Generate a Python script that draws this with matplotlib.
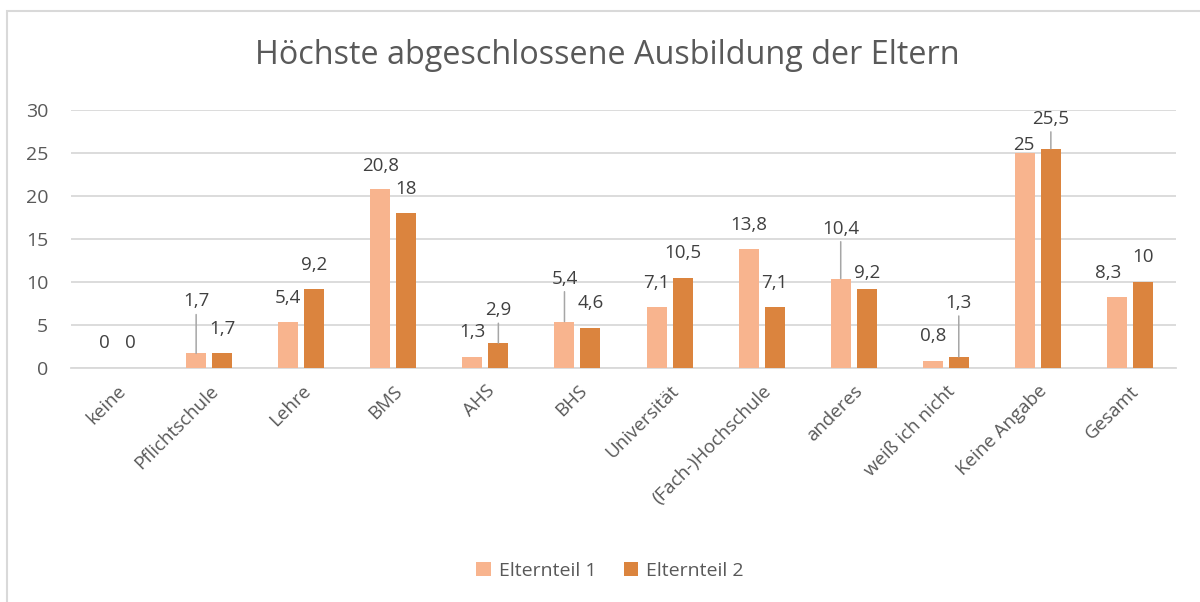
import matplotlib

matplotlib.use("Agg")

import matplotlib.pyplot as plt
import numpy as np
from matplotlib.patches import Rectangle

plt.rcParams["font.family"] = ["Open Sans", "DejaVu Sans"]

# --- data -----------------------------------------------------------------
categories = [
    "keine", "Pflichtschule", "Lehre", "BMS", "AHS", "BHS", "Universität",
    "(Fach-)Hochschule", "anderes", "weiß ich nicht", "Keine Angabe", "Gesamt",
]
elternteil_1 = [0, 1.7, 5.4, 20.8, 1.3, 5.4, 7.1, 13.8, 10.4, 0.8, 25, 8.3]
elternteil_2 = [0, 1.7, 9.2, 18, 2.9, 4.6, 10.5, 7.1, 9.2, 1.3, 25.5, 10]
series_names = ["Elternteil 1", "Elternteil 2"]
title = "Höchste abgeschlossene Ausbildung der Eltern"

# --- label placement (pixel offsets from bar top; leader line if far) -----
offsets_1 = [(0, 25), (0, 52), (0, 24), (0, 23), (0, 25), (0, 43),
             (0, 24), (0, 24), (0, 50), (0, 25), (-1, 8), (-9, 24)]
offsets_2 = [(0, 25), (0, 24), (0, 24), (0, 24), (0, 33), (0, 25),
             (0, 25), (0, 24), (0, 16), (0, 54), (0, 30), (0, 25)]
leader_1 = [False, True, False, False, False, True, False, False, True, False, False, False]
leader_2 = [False, False, False, False, True, False, False, False, False, True, True, False]

COLOR_1 = "#F8B48E"
COLOR_2 = "#DB843E"
TEXT = "#595959"
GRID = "#D9D9D9"

W, H = 1200, 602
fig = plt.figure(figsize=(W / 100, H / 100), dpi=100)
ax = fig.add_axes([71 / W, 1 - 368 / H, (1176 - 71) / W, (368 - 110) / H])

# chart border
fig.patches.append(Rectangle((7 / W, -0.1), 1.2, 1 - 11 / H + 0.1,
                             transform=fig.transFigure, fill=False,
                             edgecolor="#D9D9D9", lw=1.5))

x = np.arange(len(categories))
bw = 0.217
shift = 0.141
bars_1 = ax.bar(x - shift, elternteil_1, bw, color=COLOR_1, label=series_names[0], zorder=3)
bars_2 = ax.bar(x + shift, elternteil_2, bw, color=COLOR_2, label=series_names[1], zorder=3)


def fmt(v):
    s = f"{v:.1f}".rstrip("0").rstrip(".")
    return s.replace(".", ",")


for xs, vals, offs, leads in (
    (x - shift, elternteil_1, offsets_1, leader_1),
    (x + shift, elternteil_2, offsets_2, leader_2),
):
    for xi, v, (dx, dy), lead in zip(xs, vals, offs, leads):
        arrow = None
        if lead:
            arrow = dict(arrowstyle="-", color="#A6A6A6", lw=1.1, shrinkA=1, shrinkB=0)
        ax.annotate(fmt(v), xy=(xi, v), xytext=(dx, dy), textcoords="offset pixels",
                    ha="center", va="center", fontsize=13.5, color="#404040",
                    arrowprops=arrow, zorder=4)

ax.set_xlim(-0.5, len(categories) - 0.5)
ax.set_ylim(0, 30)
ax.set_yticks(range(0, 31, 5))
ax.yaxis.grid(True, color=GRID, lw=1.3, zorder=0)
ax.set_axisbelow(True)
for side in ("top", "right", "left"):
    ax.spines[side].set_visible(False)
ax.spines["bottom"].set_color(GRID)
ax.spines["bottom"].set_linewidth(1.3)
ax.tick_params(axis="y", length=0, labelsize=14, labelcolor=TEXT, pad=16.5)
ax.tick_params(axis="x", length=0, labelsize=13.5, labelcolor=TEXT, pad=10)
ax.set_xticks(x)
ax.set_xticklabels(categories, rotation=45, ha="right", va="top", rotation_mode="anchor")

fig.text(607 / W, 1 - 55 / H, title, ha="center", va="center", fontsize=23.3, color=TEXT)

fig.legend(handles=[bars_1, bars_2], labels=series_names, loc="center",
           bbox_to_anchor=(610 / W, 1 - 571 / H), ncol=2, frameon=False,
           fontsize=14, labelcolor=TEXT, handlelength=0.75, handleheight=0.75,
           handletextpad=0.4, columnspacing=1.4)

fig.savefig("out.png", dpi=100)
